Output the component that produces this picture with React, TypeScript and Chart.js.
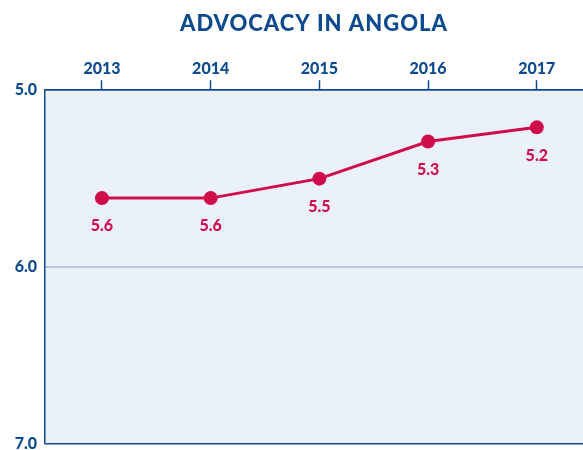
import React, { useEffect, useRef } from "react";
import { Chart, registerables } from "chart.js";

Chart.register(...registerables);

const titleText = "ADVOCACY IN ANGOLA";
const years = [2013, 2014, 2015, 2016, 2017];
const scores = [5.61, 5.61, 5.5, 5.29, 5.21];
const yTicks = [5, 6, 7];

const DARK = "#0d4a8e";
const LIGHT_GRID = "#b2c9e6";
const RED = "#d00d4b";
const BG = "#eaf1fa";
const FONT = "Lato, 'Open Sans', sans-serif";

const bgPlugin = {
  id: "plotBg",
  beforeDraw(chart: any) {
    const { ctx, chartArea } = chart;
    ctx.save();
    ctx.fillStyle = BG;
    ctx.fillRect(chartArea.left, chartArea.top, chartArea.right - chartArea.left, chartArea.bottom - chartArea.top);
    ctx.restore();
  },
};

const titlePlugin = {
  id: "customTitle",
  afterDraw(chart: any) {
    const { ctx, chartArea } = chart;
    ctx.save();
    ctx.fillStyle = DARK;
    ctx.font = `900 22px ${FONT}`;
    (ctx as any).letterSpacing = "1px";
    ctx.textAlign = "center";
    ctx.textBaseline = "middle";
    ctx.fillText(titleText, (chartArea.left + chartArea.right) / 2, 24);
    ctx.restore();
  },
};

const labelPlugin = {
  id: "pointLabels",
  afterDatasetsDraw(chart: any) {
    const { ctx } = chart;
    const meta = chart.getDatasetMeta(0);
    ctx.save();
    ctx.fillStyle = RED;
    ctx.font = `900 16px ${FONT}`;
    ctx.textAlign = "center";
    ctx.textBaseline = "middle";
    meta.data.forEach((pt: any, i: number) => {
      ctx.fillText(scores[i].toFixed(1), pt.x, pt.y + 28);
    });
    ctx.restore();
  },
};

export default function App() {
  const ref = useRef<HTMLCanvasElement>(null);
  useEffect(() => {
    if (!ref.current) return;
    const chart = new Chart(ref.current, {
      type: "line",
      data: {
        datasets: [
          {
            data: years.map((y, i) => ({ x: y, y: scores[i] })),
            borderColor: RED,
            backgroundColor: RED,
            borderWidth: 3,
            pointRadius: 7,
            pointHoverRadius: 7,
            pointBackgroundColor: RED,
            pointBorderWidth: 0,
            tension: 0,
            clip: false,
          },
        ],
      },
      plugins: [bgPlugin, labelPlugin, titlePlugin],
      options: {
        animation: false,
        responsive: false,
        layout: { autoPadding: false, padding: { left: 10, right: 0, top: 57, bottom: 6 } },
        plugins: {
          legend: { display: false },
          tooltip: { enabled: false },
          title: { display: false },
        },
        scales: {
          x: {
            type: "linear",
            position: "top",
            min: 2012.476,
            max: 2017.425,
            afterBuildTicks(scale: any) {
              scale.ticks = years.map((v) => ({ value: v }));
            },
            afterFit(scale: any) {
              scale.paddingLeft = 0;
              scale.paddingRight = 0;
            },
            ticks: {
              color: DARK,
              font: { family: FONT, size: 16, weight: "900" },
              padding: 2,
              callback: (v: any) => String(v),
              maxRotation: 0,
              autoSkip: false,
            },
            grid: {
              drawOnChartArea: false,
              drawTicks: true,
              tickLength: 10,
              tickColor: DARK,
              tickWidth: 1.5,
            },
            border: { display: true, color: DARK, width: 1.5 },
          },
          y: {
            type: "linear",
            reverse: true,
            min: 5,
            max: 7,
            afterBuildTicks(scale: any) {
              scale.ticks = yTicks.map((v) => ({ value: v }));
            },
            afterFit(scale: any) {
              scale.width = 35;
              scale.paddingTop = 0;
              scale.paddingBottom = 0;
            },
            ticks: {
              color: DARK,
              font: { family: FONT, size: 16, weight: "900" },
              padding: 8,
              callback: (v: any) => Number(v).toFixed(1),
            },
            grid: {
              drawTicks: false,
              tickLength: 0,
              color: (c: any) => (c.tick && c.tick.value === 6 ? LIGHT_GRID : DARK),
              lineWidth: (c: any) => (c.tick && c.tick.value === 6 ? 2 : 1.5),
            },
            border: { display: true, color: DARK, width: 1.5 },
          },
        },
      },
    });
    return () => chart.destroy();
  }, []);
  return (
    <div style={{ position: "fixed", left: 0, top: 0, width: 583, height: 450, overflow: "hidden" }}>
      <canvas ref={ref} width={583} height={450} style={{ display: "block", width: 583, height: 450 }} />
    </div>
  );
}
